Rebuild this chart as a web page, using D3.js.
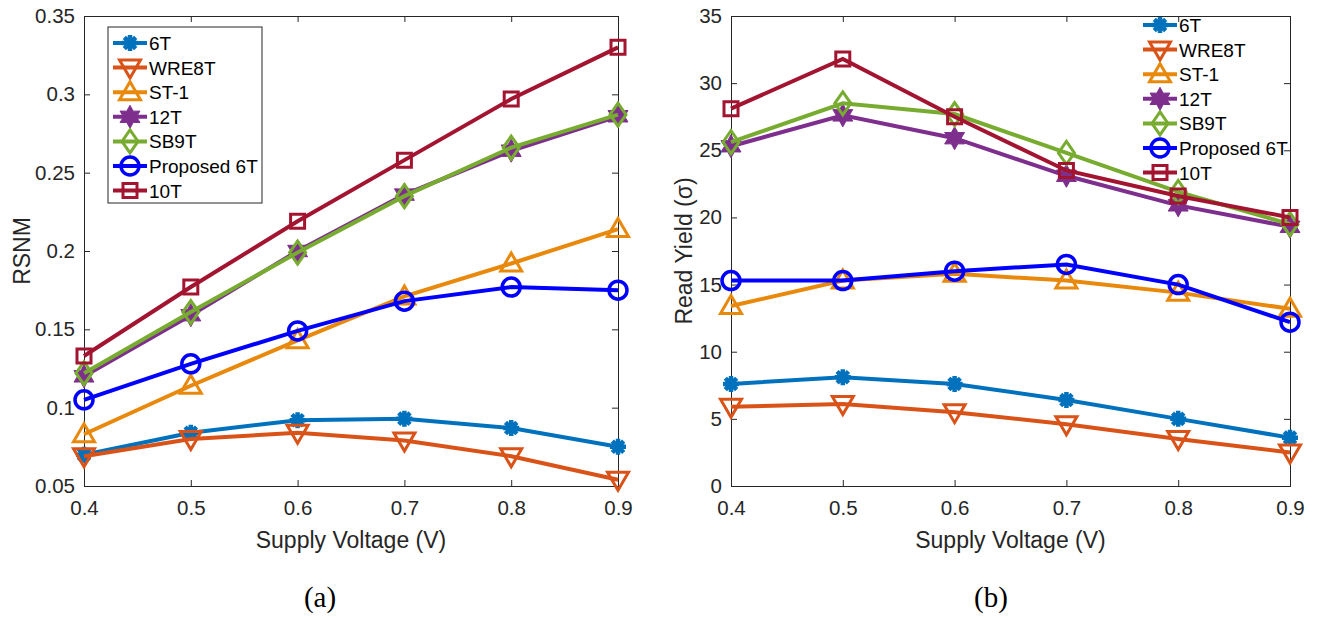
<!DOCTYPE html>
<html lang="en">
<head>
<meta charset="utf-8">
<title>RSNM and Read Yield vs Supply Voltage</title>
<script src="https://d3js.org/d3.v7.min.js"></script>
<style>
body {
	margin: 0;
	background-color: white;
	font-family: "Liberation Sans", Arial, sans-serif;
}
svg { display: block; }
.tick text { fill: #262626; }
.lbl { fill: #262626; font-size: 23px; }
.cap { font-family: "Liberation Serif", "Times New Roman", serif; font-size: 29px; fill: #000; }
.leg { fill: #000; font-size: 19px; }
</style>
</head>
<body>
<script>

// data
var voltage = [0.4, 0.5, 0.6, 0.7, 0.8, 0.9];
var names = ["6T", "WRE8T", "ST-1", "12T", "SB9T", "Proposed 6T", "10T"];
var colors = ["#0072BD", "#D95319", "#E8890C", "#7E2F8E", "#77AC30", "#0000FF", "#A2142F"];
var markers = ["asterisk", "tridown", "triup", "hexagram", "diamond", "circle", "square"];

var rsnm6T    = [0.070, 0.084, 0.092, 0.093, 0.087, 0.075];
var rsnmWRE8T = [0.069, 0.080, 0.084, 0.079, 0.069, 0.054];
var rsnmST1   = [0.083, 0.114, 0.143, 0.171, 0.192, 0.214];
var rsnm12T   = [0.120, 0.159, 0.200, 0.236, 0.264, 0.286];
var rsnmSB9T  = [0.122, 0.161, 0.199, 0.235, 0.266, 0.287];
var rsnmProp  = [0.105, 0.128, 0.149, 0.168, 0.177, 0.175];
var rsnm10T   = [0.133, 0.177, 0.219, 0.258, 0.297, 0.330];

var ry6T    = [7.6, 8.1, 7.6, 6.4, 5.0, 3.6];
var ryWRE8T = [5.9, 6.1, 5.5, 4.6, 3.5, 2.5];
var ryST1   = [13.4, 15.3, 15.8, 15.3, 14.4, 13.2];
var ry12T   = [25.3, 27.6, 25.9, 23.1, 20.9, 19.3];
var rySB9T  = [25.6, 28.5, 27.7, 24.8, 21.9, 19.5];
var ryProp  = [15.3, 15.3, 16.0, 16.5, 15.0, 12.2];
var ry10T   = [28.1, 31.8, 27.5, 23.5, 21.6, 20.0];

var xTicks = [0.4, 0.5, 0.6, 0.7, 0.8, 0.9];
var rsnmTicks = [0.05, 0.1, 0.15, 0.2, 0.25, 0.3, 0.35];
var ryTicks = [0, 5, 10, 15, 20, 25, 30, 35];

var rsnmData = [rsnm6T, rsnmWRE8T, rsnmST1, rsnm12T, rsnmSB9T, rsnmProp, rsnm10T];
var ryData = [ry6T, ryWRE8T, ryST1, ry12T, rySB9T, ryProp, ry10T];

var width = 1322, height = 617;
var svg = d3.select("body").append("svg").attr("width", width).attr("height", height);

// marker shapes
function markerPath(type) {
	if (type == "asterisk") return "M-8,0L8,0M0,-8L0,8M-5.7,-5.7L5.7,5.7M-5.7,5.7L5.7,-5.7";
	if (type == "tridown") return "M-10.5,-7.5L10.5,-7.5L0,10.5Z";
	if (type == "triup") return "M-10.5,7.5L10.5,7.5L0,-10.5Z";
	if (type == "diamond") return "M0,-11.5L8,0L0,11.5L-8,0Z";
	if (type == "square") return "M-7,-7L7,-7L7,7L-7,7Z";
	if (type == "hexagram") {
		var pts = [];
		for (var i = 0; i < 12; i++) {
			var r = i % 2 == 0 ? 11.5 : 6.5;
			var a = Math.PI / 6 * i - Math.PI / 2;
			pts.push([r * Math.cos(a), r * Math.sin(a)]);
		}
		return "M" + pts.join("L") + "Z";
	}
	return null;
}

function drawMarker(g, type, color, x, y) {
	if (type == "circle") {
		g.append("circle").attr("cx", x).attr("cy", y).attr("r", 9)
			.attr("fill", "none").attr("stroke", color).attr("stroke-width", 3.5);
		return;
	}
	var p = g.append("path").attr("d", markerPath(type))
		.attr("transform", "translate(" + x + "," + y + ")")
		.attr("stroke", color).attr("stroke-linejoin", "miter");
	if (type == "hexagram") p.attr("fill", color).attr("stroke-width", 1);
	else if (type == "asterisk") p.attr("fill", "none").attr("stroke-width", 4.5);
	else p.attr("fill", "none").attr("stroke-width", 3);
}

function panel(opts) {
	var x = d3.scaleLinear().domain([0.4, 0.9]).range([opts.left, opts.right]);
	var y = d3.scaleLinear().domain(opts.ydomain).range([opts.bottom, opts.top]);
	var g = svg.append("g");

	// ticks on all four sides, pointing in
	g.append("g").attr("transform", "translate(0," + opts.bottom + ")")
		.call(d3.axisBottom(x).tickValues(xTicks).tickSize(-6).tickPadding(14).tickFormat(d3.format(".1f")));
	g.append("g").attr("transform", "translate(0," + opts.top + ")")
		.call(d3.axisTop(x).tickValues(xTicks).tickSize(-6).tickFormat(""));
	g.append("g").attr("transform", "translate(" + opts.left + ",0)")
		.call(d3.axisLeft(y).tickValues(opts.yticks).tickSize(-6).tickPadding(9).tickFormat(opts.yfmt));
	g.append("g").attr("transform", "translate(" + opts.right + ",0)")
		.call(d3.axisRight(y).tickValues(opts.yticks).tickSize(-6).tickFormat(""));
	g.selectAll(".domain").attr("stroke", "#262626").attr("stroke-width", 1);
	g.selectAll(".tick line").attr("stroke", "#262626");
	g.selectAll(".tick text").attr("font-family", "Liberation Sans, Arial, sans-serif").attr("font-size", 20.5);

	var line = d3.line().x(function(d, i) { return x(voltage[i]); }).y(function(d) { return y(d); });
	opts.data.forEach(function(vals, k) {
		g.append("path").datum(vals).attr("d", line)
			.attr("fill", "none").attr("stroke", colors[k]).attr("stroke-width", 4);
		vals.forEach(function(v, i) {
			drawMarker(g, markers[k], colors[k], x(voltage[i]), y(v));
		});
	});

	// axis labels
	g.append("text").attr("class", "lbl").attr("text-anchor", "middle")
		.attr("x", (opts.left + opts.right) / 2).attr("y", 548).text("Supply Voltage (V)");
	g.append("text").attr("class", "lbl").attr("text-anchor", "middle")
		.attr("transform", "translate(" + opts.ylabelX + "," + (opts.top + opts.bottom) / 2 + ") rotate(-90)")
		.text(opts.ylabel);
	g.append("text").attr("class", "cap").attr("text-anchor", "middle")
		.attr("x", opts.capX).attr("y", 607).text(opts.caption);

	// legend
	var lg = svg.append("g");
	if (opts.legendBox) {
		lg.append("rect").attr("x", opts.legendBox[0]).attr("y", opts.legendBox[1])
			.attr("width", opts.legendBox[2]).attr("height", opts.legendBox[3])
			.attr("fill", "white").attr("stroke", "#262626").attr("stroke-width", 1);
	}
	names.forEach(function(n, k) {
		var ly = opts.legY + k * opts.legStep;
		lg.append("line").attr("x1", opts.legX).attr("x2", opts.legX + 34)
			.attr("y1", ly).attr("y2", ly).attr("stroke", colors[k]).attr("stroke-width", 4);
		drawMarker(lg, markers[k], colors[k], opts.legX + 17, ly);
		lg.append("text").attr("class", "leg").attr("x", opts.legX + 36).attr("y", ly + 7).text(n);
	});
}

panel({
	left: 84, right: 618, top: 16, bottom: 486,
	ydomain: [0.05, 0.35], yticks: rsnmTicks,
	yfmt: function(d) { return d3.format("")(+d.toFixed(2)); },
	data: rsnmData, ylabel: "RSNM", ylabelX: 30, caption: "(a)", capX: 320,
	legendBox: [108, 27, 154, 176], legX: 113, legY: 43, legStep: 24.6
});

panel({
	left: 731, right: 1290, top: 16, bottom: 486,
	ydomain: [0, 35], yticks: ryTicks,
	yfmt: d3.format("d"),
	data: ryData, ylabel: "Read Yield (\u03c3)", ylabelX: 692, caption: "(b)", capX: 991,
	legendBox: null, legX: 1143, legY: 25, legStep: 24.6
});

</script>
</body>
</html>
